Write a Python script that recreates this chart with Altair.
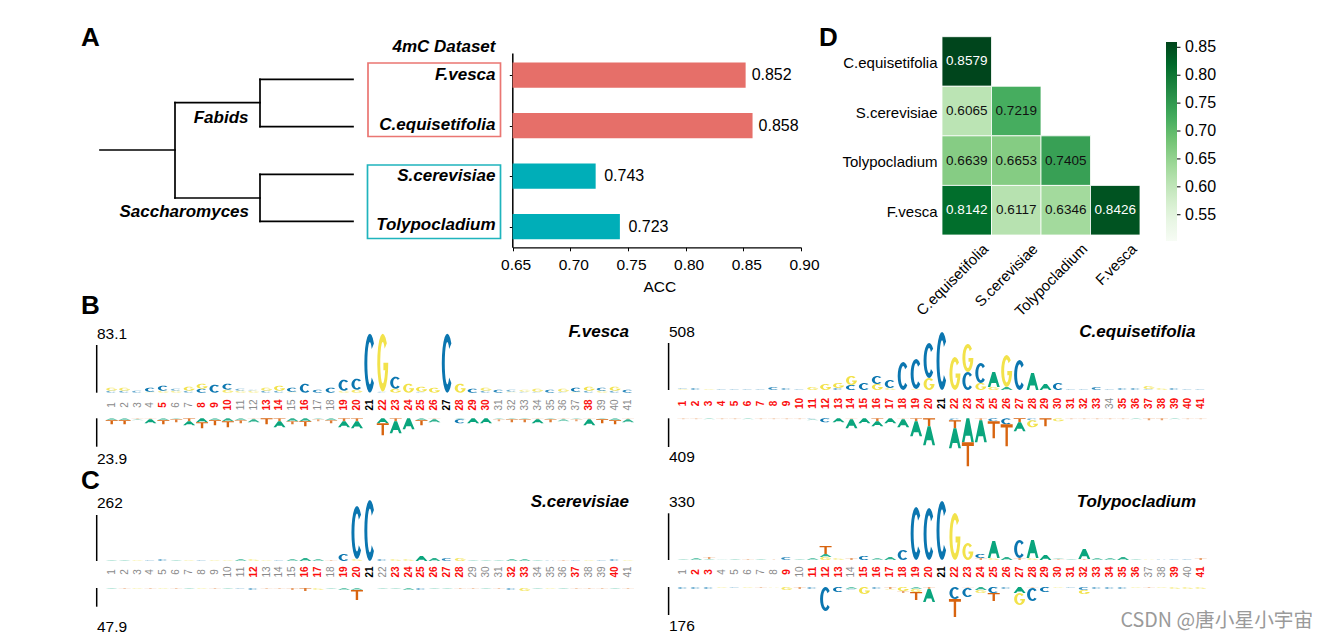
import math
import altair as alt
import pandas as pd

# ---------- data ----------
SPECIES = ["F.vesca", "C.equisetifolia", "S.cerevisiae", "Tolypocladium"]
ACC = [0.852, 0.858, 0.722, 0.743]
ACC_LABELS = ["0.852", "0.858", "0.743", "0.723"]
ACC_TICKS = [0.65, 0.70, 0.75, 0.80, 0.85, 0.90]

HEAT_ORDER = ["C.equisetifolia", "S.cerevisiae", "Tolypocladium", "F.vesca"]
HEAT_ROW = ["C.equisetifolia", "S.cerevisiae", "S.cerevisiae", "Tolypocladium", "Tolypocladium", "Tolypocladium",
            "F.vesca", "F.vesca", "F.vesca", "F.vesca"]
HEAT_COL = ["C.equisetifolia", "C.equisetifolia", "S.cerevisiae", "C.equisetifolia", "S.cerevisiae", "Tolypocladium",
            "C.equisetifolia", "S.cerevisiae", "Tolypocladium", "F.vesca"]
HEAT_VAL = [0.8579, 0.6065, 0.7219, 0.6639, 0.6653, 0.7405, 0.8142, 0.6117, 0.6346, 0.8426]
HEAT_TICKS = [0.55, 0.60, 0.65, 0.70, 0.75, 0.80, 0.85]
GREENS = ["#f7fcf5", "#e5f5e0", "#c7e9c0", "#a1d99b", "#74c476", "#41ab5d", "#238b45", "#006d2c", "#00441b"]

TREE_X1 = [0, 75, 75, 75, 160, 160, 160, 160, 160, 160]
TREE_X2 = [75, 75, 160, 160, 160, 253, 253, 160, 253, 253]
TREE_Y1 = [70.7, 23.4, 23.4, 118.7, 0, 0, 47.4, 95, 95, 142]
TREE_Y2 = [70.7, 118.7, 23.4, 118.7, 47.4, 0, 47.4, 142, 95, 142]

FV_UP = ["C2 G3", "C2 G3", "C2", "G1 C4", "G2 C5", "G2 C2", "C2 G4", "C4 G5", "C8", "G3 C6", "G2 C2", "G2 C1", "C2 G3",
         "C2 G5", "G1 C4", "C9", "C3", "C5", "G2 C11", "G3 C11", "C59", "C1 G58", "G4 C12", "G9", "C1 G5", "G5", "C59",
         "G9", "C4", "C2 G3", "C3", "G1 C2", "C1 G2", "C1 G3", "C3", "C1 G3", "G1 C4", "C2 G4", "G2 C3", "C2 G4", "C3"]
FV_DN = ["A2 T4", "A2 T4", "T1 A1", "T1 A4", "A2 T4", "A1 T3", "T3 A4", "A4 T6", "A2 T5", "A3 T6", "A2 T3", "T1 A3", "T6",
         "T3 A6", "A3 T3", "A3 T5", "A1 T2", "A2 T3", "T3 A6", "T3 A7", "", "A5 T12", "T3 A12", "A11", "A2 T5", "T1 A3", "",
         "A1 C4", "A5", "A5", "A1 T2", "A1 T3", "A1 T3", "T1 A4", "A1 T3", "T1 A2", "A1 T2", "T1 A6", "A1 T4", "A2 T4", "T1 A3"]
CE_UP = ["G1 C1", "C2", "G1", "C1", "C1", "C1", "C1", "C3", "C2", "C1", "G3", "G6", "C2 G5", "C5 G9", "C7", "G6 C8", "G2 C8",
         "C28", "G1 C30", "G12 C35", "C58", "G33", "C18 G28", "G7 C20", "G3 A15", "A3 G32", "C30", "A17", "A6", "C7", "C1",
         "C1", "C3", "C1", "C2", "C2", "C1 G3", "G2", "C2", "C1", "C1"]
CE_DN = ["T1", "T1", "A1", "T1", "T1", "A1", "T1", "T1", "T1", "T1", "C1 A1", "C4", "A4", "T1 A9", "A5", "T3 A5", "A5",
         "T1 A8", "T3 A15", "T8 A19", "", "C2 T8 A20", "A24 T24", "T2 A22", "C3 T17", "C6 T22", "T4 A9", "C2 G7", "T8", "G3",
         "T1", "T1", "T1", "T1", "T1", "A1", "T2", "T2", "A1", "T1", "T1"]
SC_UP = ["A1", "A1", "G1", "C1", "C2", "A1", "G1", "C1", "G1", "G1", "A2", "G2", "G1", "C1", "A2", "A3", "A2", "T1", "C7",
         "G2 C53", "C61", "C2", "G2", "G2", "A5", "A3", "C3", "G3", "A1", "A1", "A1", "A2", "A2", "A1", "C0.5", "T1", "C1",
         "G1", "C1", "C2", "G1"]
SC_DN = ["A1", "T1", "G1", "T1", "G1", "T1", "A1", "G1", "T1", "A1", "C1", "C2", "T1", "T1", "T2", "T3", "G2", "A1", "A2",
         "A2 T10", "", "A1", "A1", "A2", "C2", "A1", "A1", "T1", "T1", "A1", "T1", "C2", "G3", "A1", "G1", "A1", "T1", "T1",
         "T1", "A1", "T1"]
TP_UP = ["A1", "A2", "A1 T2", "A0.5", "A1", "T1", "A1", "T0.5", "C3", "A1", "A2", "G3 A3 T8", "G2", "T2", "C4", "A2", "A3",
         "C10", "C53", "C52", "C59", "G47", "G17", "T2 C4", "G2 A17", "A3", "T2 C18", "G2 A18", "A5", "T1 A1", "A1", "T1 A10",
         "A2", "A2", "A3", "A1", "G0.5", "C0.5", "C1", "C1", "T2"]
TP_DN = ["C2", "C2", "C2", "G1", "C1", "G1", "T1", "G0.5", "G3", "T2", "C2", "C24", "C5", "A2 C1", "G7", "C2", "T2 G1", "G4 T2",
         "A2 G3 T8", "T2 A13", "", "C12 T18", "T1 C9", "A3 G3", "C6 T8", "C2", "A6 G12", "T1 C13", "C5", "G1", "C1", "C3 G4",
         "C2", "C2", "C2", "G1", "T1", "G1", "G2", "G2", "G2"]

FV_RED = [5, 8, 9, 10, 13, 14, 16, 19, 20, 22, 23, 24, 25, 26, 28, 29, 30, 38]
FV_BLACK = [21, 27]
CE_GRAY = [34]
SC_RED = [12, 16, 17, 19, 20, 23, 24, 25, 26, 27, 28, 32, 33, 37, 40]
TP_GRAY = [1, 4, 5, 6, 7, 8, 10, 14, 37, 38, 40]

# ---------- styles ----------
FONT = "Liberation Sans"
W, H = 1304, 627
LETTER_COLORS = {"A": "#0aa57d", "C": "#0b76b0", "G": "#f2e24a", "T": "#d8640f"}
RED_BAR, TEAL_BAR = "#e66f69", "#00aeb8"
RED, GRAY, BLACK = "#fb0d0d", "#8a8a8a", "#000000"
C_LO, C_HI = 0.5035, 0.8595
HEAT_STOPS = [C_LO + (C_HI - C_LO) * k / 8 for k in range(9)]


def px(v):
    return v - 8


def arc(cx, cy, rx, ry, a0, a1, n):
    return [(cx + rx * math.cos(math.radians(a0 + (a1 - a0) * i / n)),
             cy + ry * math.sin(math.radians(a0 + (a1 - a0) * i / n))) for i in range(n + 1)]


GLYPHS = {
    "T": [[(0, 1), (1, 1), (1, .85), (.6, .85), (.6, 0), (.4, 0), (.4, .85), (0, .85)]],
    "A": [[(0, 0), (.38, 1), (.62, 1), (1, 0), (.79, 0), (.69, .27), (.31, .27), (.21, 0)],
          [(.37, .42), (.5, .8), (.63, .42)]],
    "C": [arc(.5, .5, .5, .5, 42, 318, 18) + arc(.5, .5, .23, .36, 318, 42, 18)],
    "G": [arc(.5, .5, .5, .5, 42, 360, 18) + [(.56, .5), (.56, .37), (.73, .37)] + arc(.5, .5, .23, .36, 335, 42, 16)],
}


def glyph_path(letter, h):
    w = 12.0 if letter in "AT" else 11.0
    parts = []
    for ring in GLYPHS[letter]:
        pts = [f"{(x - .5) * w:.2f},{(.5 - y) * h:.2f}" for x, y in ring]
        parts.append("M" + "L".join(pts) + "Z")
    return "".join(parts)


def stack_frame(stacks):
    rows = []
    for i, s in enumerate(stacks):
        cum = 0.0
        for tok in s.split():
            h = float(tok[1:])
            op = 0.35 if h <= 1 else 0.6 if h <= 2 else 0.85 if h <= 3 else 1.0
            rows.append(dict(pos=i + 1, center=cum + h / 2, path=glyph_path(tok[0], h), fill=LETTER_COLORS[tok[0]], op=op))
            cum += h
    return pd.DataFrame(rows)


ONE = pd.DataFrame({"a": [0]})


def txt(x, y, s, size=15, bold=False, italic=False, align="left", color="black", font=FONT):
    kw = dict(fontSize=size, font=font, align=align, baseline="middle", color=color,
              fontWeight="bold" if bold else "normal", fontStyle="italic" if italic else "normal")
    return alt.Chart(ONE).mark_text(**kw).encode(x=alt.value(px(x)), y=alt.value(px(y)), text=alt.value(s))


def vline(x, y1, y2, color="black", width=1.5):
    return alt.Chart(ONE).mark_rule(color=color, strokeWidth=width).encode(
        x=alt.value(px(x)), y=alt.value(px(y1)), y2=alt.value(px(y2)))


layers = []

# ---------- panel letters ----------
layers += [txt(81, 38, "A", 26, bold=True), txt(81, 306, "B", 26, bold=True),
           txt(81, 481, "C", 26, bold=True), txt(819, 38, "D", 26, bold=True)]

# ---------- tree ----------
tree = pd.DataFrame({"x": TREE_X1, "x2": TREE_X2, "y": TREE_Y1, "y2": TREE_Y2})
layers.append(alt.Chart(tree).mark_rule(color="black", strokeWidth=1.7, strokeCap="square").encode(
    x=alt.X("x:Q", axis=None, scale=alt.Scale(domain=[0, 253], range=[px(100), px(353)], nice=False, zero=False)),
    x2="x2:Q",
    y=alt.Y("y:Q", axis=None, scale=alt.Scale(domain=[0, 142], range=[px(79.3), px(221.3)], nice=False, zero=False)),
    y2="y2:Q"))
layers += [txt(248.5, 117.5, "Fabids", 17, True, True, "right"),
           txt(249, 211.5, "Saccharomyces", 17, True, True, "right"),
           txt(495.5, 46.5, "4mC Dataset", 17, True, True, "right"),
           txt(495.5, 75, "F.vesca", 17, True, True, "right"),
           txt(495.5, 125, "C.equisetifolia", 17, True, True, "right"),
           txt(495.5, 176, "S.cerevisiae", 17, True, True, "right"),
           txt(495.5, 225, "Tolypocladium", 17, True, True, "right")]
for (x1, x2, y1, y2, c) in [(368, 500.5, 63, 136.5, "#ea7672"), (367.5, 500.5, 165, 238.5, "#1fb4bd")]:
    layers.append(alt.Chart(ONE).mark_rect(fillOpacity=0, stroke=c, strokeWidth=1.7).encode(
        x=alt.value(px(x1)), x2=alt.value(px(x2)), y=alt.value(px(y1)), y2=alt.value(px(y2))))

# ---------- bars ----------
bars = pd.DataFrame({"sp": SPECIES, "acc": ACC, "start": [0.65] * 4, "label": ACC_LABELS,
                     "i0": [i - 0.25 for i in range(4)], "i1": [i + 0.25 for i in range(4)], "i": list(range(4)),
                     "fill": [RED_BAR, RED_BAR, TEAL_BAR, TEAL_BAR]})
xs = alt.Scale(domain=[0.65, 0.90], range=[px(512.6), px(801)], nice=False, zero=False)
ys = alt.Scale(domain=[-0.44, 3.408], range=[px(53), px(247.3)], nice=False, zero=False)
layers.append(alt.Chart(bars).mark_rect().encode(
    x=alt.X("start:Q", scale=xs, title="ACC",
            axis=alt.Axis(values=ACC_TICKS, format=".2f", grid=False, orient="bottom", offset=-(H - px(247.3)),
                          labelFont=FONT, labelFontSize=15.5, labelColor="black", labelPadding=7, labelFlush=False,
                          labelOffset=3, titleX=px(659.3),
                          titleFont=FONT, titleFontSize=15.5, titleFontWeight="normal", titleColor="black", titlePadding=6,
                          domainColor="black", domainWidth=1.3, tickColor="black", tickSize=3.5, tickWidth=1)),
    x2="acc:Q",
    y=alt.Y("i0:Q", scale=ys, title=None,
            axis=alt.Axis(values=[0, 1, 2, 3], labels=False, grid=False, orient="left", offset=-px(512.3),
                          domainColor="black", domainWidth=1.5, tickColor="black", tickSize=3, tickWidth=1)),
    y2="i1:Q",
    color=alt.Color("fill:N", scale=None)))
for sub, dx in [(bars[bars.fill == RED_BAR], 6), (bars[bars.fill == TEAL_BAR], 8.5)]:
    layers.append(alt.Chart(sub).mark_text(align="left", baseline="middle", dx=dx, font=FONT, fontSize=16, color="black").encode(
        x=alt.X("acc:Q", scale=xs, axis=None), y=alt.Y("i:Q", scale=ys, axis=None), text="label:N"))

# ---------- heatmap ----------
heat = pd.DataFrame({"r": HEAT_ROW, "c": HEAT_COL, "v": HEAT_VAL})
heat["label"] = [f"{v:.4f}" for v in HEAT_VAL]
heat["tc"] = ["white" if v > 0.8 else "#111111" for v in HEAT_VAL]
hx = alt.Scale(domain=HEAT_ORDER, range=[px(942), px(1140)], paddingInner=0, paddingOuter=0)
hy = alt.Scale(domain=HEAT_ORDER, range=[px(36.7), px(235)], paddingInner=0, paddingOuter=0)
layers.append(alt.Chart(heat).mark_rect(stroke="white", strokeWidth=0.8).encode(
    x=alt.X("c:N", scale=hx, title=None, sort=HEAT_ORDER,
            axis=alt.Axis(orient="bottom", offset=-(H - px(235)), domain=False, ticks=False, grid=False, labelAngle=-45,
                          labelAlign="right", labelBaseline="top", labelFont=FONT, labelFontSize=15, labelColor="black",
                          labelPadding=6, labelOffset=14)),
    y=alt.Y("r:N", scale=hy, title=None, sort=HEAT_ORDER,
            axis=alt.Axis(orient="left", offset=-px(942), domain=False, ticks=False, grid=False, labelFont=FONT,
                          labelFontSize=15, labelColor="black", labelPadding=5, labelOffset=1.5)),
    color=alt.Color("v:Q", scale=alt.Scale(domain=HEAT_STOPS, range=GREENS),
                    legend=alt.Legend(orient="none", legendX=px(1166), legendY=px(42), title=None, values=HEAT_TICKS,
                                      format=".2f", gradientLength=199, gradientThickness=11, gradientStrokeWidth=0,
                                      labelFont=FONT, labelFontSize=16, labelColor="black", labelOffset=8))))
layers.append(alt.Chart(heat).mark_text(font=FONT, fontSize=13.5).encode(
    x=alt.X("c:N", scale=hx, axis=None, sort=HEAT_ORDER),
    y=alt.Y("r:N", scale=hy, axis=None, sort=HEAT_ORDER),
    text="label:N", color=alt.Color("tc:N", scale=None)))
cbar = pd.DataFrame({"t": HEAT_TICKS})
layers.append(alt.Chart(cbar).mark_rule(color="black", strokeWidth=1).encode(
    y=alt.Y("t:Q", axis=None, scale=alt.Scale(domain=[C_LO, C_HI], range=[px(240.7), px(42)], nice=False, zero=False)),
    x=alt.value(px(1177)), x2=alt.value(px(1180.5))))


# ---------- logos ----------
def logo(name, up, dn, colors, x1, x41, base_up, base_dn, top_lab, bot_lab, lab_x, ax_top, ax_bot, ax_x, name_x, name_y,
         lab_top_y, lab_bot_y, pos_y):
    out = []
    xscale = alt.Scale(domain=[1, 41], range=[px(x1), px(x41)], nice=False, zero=False)
    for stacks, rng in ((up, [px(base_up), px(base_up) - 70]), (dn, [px(base_dn), px(base_dn) + 70])):
        out.append(alt.Chart(stack_frame(stacks)).mark_point(filled=True, size=4, strokeWidth=0).encode(
            x=alt.X("pos:Q", scale=xscale, axis=None),
            y=alt.Y("center:Q", axis=None, scale=alt.Scale(domain=[0, 70], range=rng, nice=False, zero=False)),
            shape=alt.Shape("path:N", scale=None),
            opacity=alt.Opacity("op:Q", scale=None),
            color=alt.Color("fill:N", scale=None)))
    lab = pd.DataFrame({"pos": list(range(1, 42)), "c": colors})
    lab["t"] = lab["pos"].astype(str)
    for sub, weight in ((lab[lab.c == GRAY], "normal"), (lab[lab.c != GRAY], "bold")):
        out.append(alt.Chart(sub).mark_text(angle=270, font=FONT, fontSize=10, align="center", baseline="middle",
                                            fontWeight=weight).encode(
            x=alt.X("pos:Q", scale=xscale, axis=None),
            y=alt.value(px(pos_y)),
            text="t:N", color=alt.Color("c:N", scale=None)))
    out.append(vline(ax_x, ax_top, base_up))
    out.append(vline(ax_x, base_dn, ax_bot))
    out.append(txt(lab_x, lab_top_y, top_lab, 15.5))
    out.append(txt(lab_x, lab_bot_y, bot_lab, 15.5))
    out.append(txt(name_x, name_y, name, 17, True, True, "right"))
    return out


fv_c = [BLACK if p in FV_BLACK else RED if p in FV_RED else GRAY for p in range(1, 42)]
ce_c = [BLACK if p == 21 else GRAY if p in CE_GRAY else RED for p in range(1, 42)]
sc_c = [BLACK if p == 21 else RED if p in SC_RED else GRAY for p in range(1, 42)]
tp_c = [BLACK if p == 21 else GRAY if p in TP_GRAY else RED for p in range(1, 42)]

layers += logo("F.vesca", FV_UP, FV_DN, fv_c, 111.7, 628, 392.7, 418.3, "83.1", "23.9", 97, 345, 446.7, 96.7, 629, 332, 334, 459, 405)
layers += logo("C.equisetifolia", CE_UP, CE_DN, ce_c, 683.3, 1200.7, 390, 418.3, "508", "409", 669, 343, 447, 668.6, 1195.5, 332, 332, 457, 403.5)
layers += logo("S.cerevisiae", SC_UP, SC_DN, sc_c, 111.7, 628, 561, 588, "262", "47.9", 97, 515, 606.7, 96.7, 629, 502, 503, 627, 572)
layers += logo("Tolypocladium", TP_UP, TP_DN, tp_c, 683.3, 1200.7, 560, 587, "330", "176", 669, 513.3, 615, 668.6, 1196, 502, 502, 626, 572)

# ---------- watermark ----------
layers.append(txt(1120.5, 620.5, "CSDN @唐小星小宇宙", 19.7, color="#9a9a9a", font="Noto Sans CJK SC"))

chart = (alt.layer(*layers)
         .resolve_scale(x="independent", y="independent", color="independent", shape="independent", opacity="independent")
         .properties(width=W, height=H, padding=0, autosize=alt.AutoSizeParams(type="none"), background="white")
         .configure_view(stroke=None))
chart.save("out.html", embed_options={"renderer": "svg", "actions": False})
